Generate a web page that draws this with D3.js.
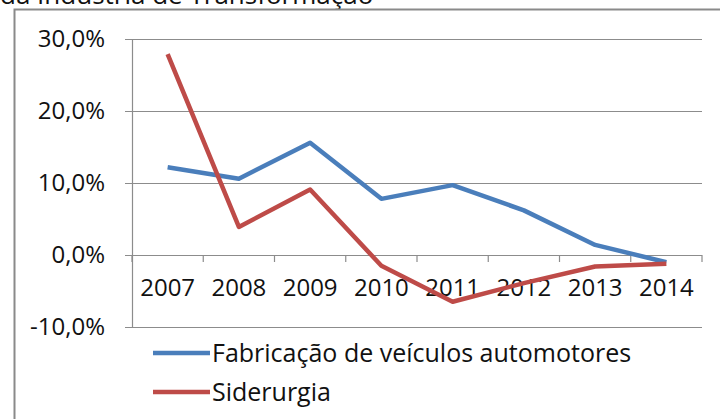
<!DOCTYPE html>
<html>
<head>
<meta charset="utf-8">
<script src="https://cdn.jsdelivr.net/npm/d3@7"></script>
<style>
  body { margin: 0; background: #fff; }
  svg { display: block; font-family: "Open Sans", sans-serif; }
</style>
</head>
<body>
<div id="chart"></div>
<script>
// chart data
const years = ['2007', '2008', '2009', '2010', '2011', '2012', '2013', '2014'];
const veiculos = [12.2, 10.6, 15.6, 7.8, 9.7, 6.2, 1.4, -1.0];
const siderurgia = [27.9, 3.9, 9.1, -1.5, -6.5, -3.9, -1.6, -1.2];
const yTicks = [-10, 0, 10, 20, 30];
const seriesNames = ['Fabricação de veículos automotores', 'Siderurgia'];
const colors = ['#4a7ebb', '#be4b48'];

const width = 720, height = 419;
const plot = { left: 132, right: 702, top: 39, bottom: 327 };
const fontSize = 24;

const svg = d3.select('#chart').append('svg')
  .attr('width', width)
  .attr('height', height);

svg.append('rect').attr('width', width).attr('height', height).attr('fill', '#fff');

// title, cut off at top
svg.append('text')
  .attr('x', 0)
  .attr('y', 4)
  .attr('font-size', 26)
  .attr('fill', '#111')
  .text('da Indústria de Transformação');

// outer frame
svg.append('rect')
  .attr('x', 14.5).attr('y', 9.5)
  .attr('width', 760).attr('height', 460)
  .attr('fill', 'none')
  .attr('stroke', '#8a8a8a')
  .attr('stroke-width', 2);

const x = d3.scaleBand().domain(years).range([plot.left, plot.right]);
const y = d3.scaleLinear().domain([-10, 30]).range([plot.bottom, plot.top]);

// gridlines
svg.append('g')
  .attr('transform', `translate(${plot.left},0)`)
  .call(d3.axisLeft(y).tickValues(yTicks).tickSize(-(plot.right - plot.left)).tickFormat(''))
  .call(g => g.select('.domain').remove())
  .selectAll('line').attr('stroke', '#8c8c8c').attr('stroke-width', 1.2);

// y axis
const yAxis = svg.append('g')
  .attr('transform', `translate(${plot.left},0)`)
  .call(d3.axisLeft(y).tickValues(yTicks).tickSize(7).tickPadding(20)
    .tickFormat(d => (d < 0 ? '-' : '') + Math.abs(d).toFixed(1).replace('.', ',') + '%'));
yAxis.select('.domain').attr('stroke', '#8c8c8c').attr('stroke-width', 1.2);
yAxis.selectAll('line').attr('stroke', '#8c8c8c');
yAxis.selectAll('text').attr('font-size', fontSize).attr('fill', '#111').attr('font-family', 'Open Sans');

// x axis at zero
const xAxis = svg.append('g')
  .attr('transform', `translate(0,${y(0)})`)
  .call(d3.axisBottom(x).tickSize(0).tickPadding(24));
xAxis.select('.domain').remove();
xAxis.selectAll('text').attr('font-size', fontSize).attr('fill', '#111').attr('font-family', 'Open Sans');

// category tick marks
svg.append('g').selectAll('line')
  .data(years.concat(['end']))
  .join('line')
  .attr('x1', (d, i) => plot.left + i * x.bandwidth())
  .attr('x2', (d, i) => plot.left + i * x.bandwidth())
  .attr('y1', y(0))
  .attr('y2', y(0) + 7)
  .attr('stroke', '#8c8c8c')
  .attr('stroke-width', 1.2);

const line = d3.line()
  .x((d, i) => x(years[i]) + x.bandwidth() / 2)
  .y(d => y(d));

[veiculos, siderurgia].forEach((s, i) => {
  svg.append('path')
    .datum(s)
    .attr('d', line)
    .attr('fill', 'none')
    .attr('stroke', colors[i])
    .attr('stroke-width', 4.5)
    .attr('stroke-linejoin', 'round');
});

// legend
const legend = svg.append('g');
seriesNames.forEach((name, i) => {
  const ly = 353 + i * 39;
  legend.append('line')
    .attr('x1', 153).attr('x2', 210)
    .attr('y1', ly).attr('y2', ly)
    .attr('stroke', colors[i])
    .attr('stroke-width', 4.5);
  legend.append('text')
    .attr('x', 212)
    .attr('y', ly)
    .attr('dy', '0.35em')
    .attr('font-size', 25)
    .attr('fill', '#111')
    .text(name);
});
</script>
</body>
</html>
